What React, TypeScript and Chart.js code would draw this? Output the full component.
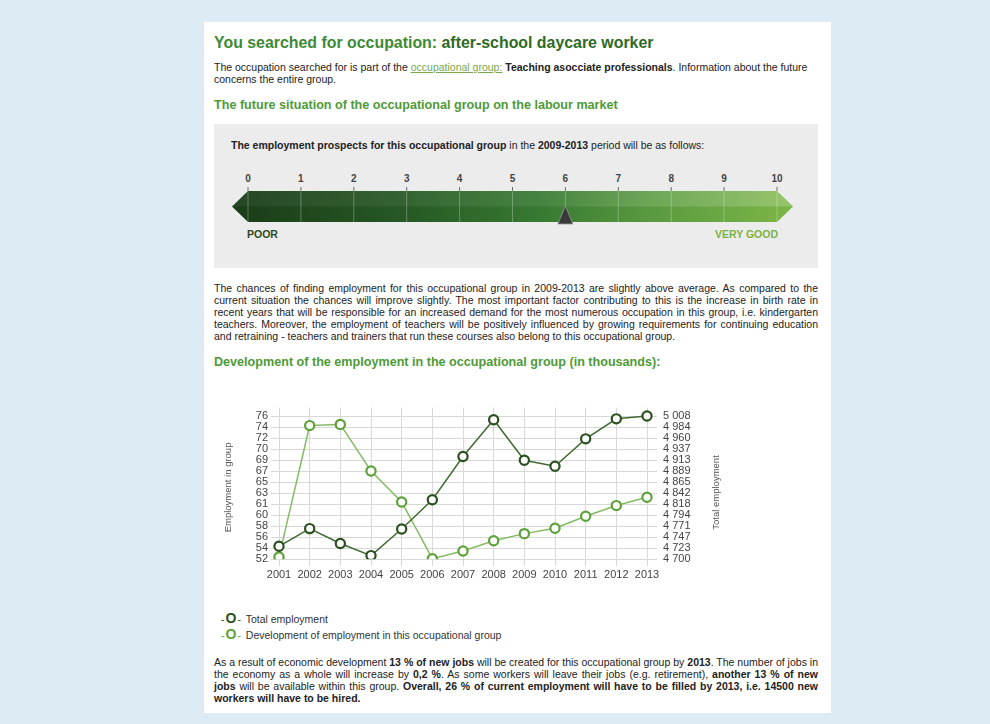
import React, { useEffect, useRef } from "react";
import { Chart, registerables } from "chart.js";

Chart.register(...registerables);

const FONT = '"Liberation Sans", Arial, Helvetica, sans-serif';
Chart.defaults.font.family = FONT;

// ---------------- data ----------------
const years = ["2001", "2002", "2003", "2004", "2005", "2006", "2007", "2008", "2009", "2010", "2011", "2012", "2013"];
const totalEmployment = [4728, 4766, 4734, 4708, 4765, 4828, 4921, 5000, 4913, 4900, 4959, 5002, 5008];
const groupEmployment = [52.4, 74.4, 74.6, 66.8, 61.6, 52.1, 53.4, 55.1, 56.3, 57.2, 59.2, 61.0, 62.4];
const groupTickLabels = ["52", "54", "56", "58", "60", "61", "63", "65", "67", "69", "70", "72", "74", "76"];
const totalTickLabels = ["4 700", "4 723", "4 747", "4 771", "4 794", "4 818", "4 842", "4 865", "4 889", "4 913", "4 937", "4 960", "4 984", "5 008"];
const groupAxisRange = [52, 76];
const totalAxisRange = [4700, 5008];
const seriesNames = ["Total employment", "Development of employment in this occupational group"];
const axisTitles = ["Employment in group", "Total employment"];
const prospectScale = [0, 1, 2, 3, 4, 5, 6, 7, 8, 9, 10];
const prospectScore = 6;
const prospectEnds = ["POOR", "VERY GOOD"];

// ---------------- styles ----------------
const TOTAL_LINE = "#426b33";
const TOTAL_MARK = "#2a5020";
const GROUP_LINE = "#84bb62";
const GROUP_MARK = "#5da13a";
const GRID = "#d8d8d8";
const TICK = "#444444";
const HEADROOM = 0.0589;
const BODY_SIZE = 10.5;

const axisTitlePlugin = {
  id: "axisTitlePlugin",
  afterDraw(chart: any) {
    const { ctx, chartArea, scales } = chart;
    const cy = (chartArea.top + chartArea.bottom) / 2;
    ctx.save();
    ctx.fillStyle = "#555";
    ctx.font = `9.5px ${FONT}`;
    ctx.textAlign = "center";
    ctx.textBaseline = "middle";
    ctx.translate(scales.y.left + 18, cy + 4);
    ctx.rotate(-Math.PI / 2);
    ctx.fillText(axisTitles[0], 0, 0);
    ctx.restore();
    ctx.save();
    ctx.fillStyle = "#555";
    ctx.font = `9.5px ${FONT}`;
    ctx.textAlign = "center";
    ctx.textBaseline = "middle";
    ctx.translate(scales.y1.right - 24, cy + 9);
    ctx.rotate(-Math.PI / 2);
    ctx.fillText(axisTitles[1], 0, 0);
    ctx.restore();
  },
};

function evenTicks(labels: string[], range: number[]) {
  const [lo, hi] = range;
  return labels.map((_, i) => ({ value: lo + (i * (hi - lo)) / (labels.length - 1) }));
}

function EmploymentChart() {
  const ref = useRef<HTMLCanvasElement | null>(null);
  useEffect(() => {
    const canvas = ref.current;
    if (!canvas) return;
    const chart = new Chart(canvas, {
      type: "line",
      data: {
        labels: years,
        datasets: [
          {
            label: seriesNames[0],
            data: totalEmployment,
            yAxisID: "y1",
            borderColor: TOTAL_LINE,
            borderWidth: 1.5,
            pointRadius: 4.6,
            pointBorderWidth: 2.2,
            pointBorderColor: TOTAL_MARK,
            pointBackgroundColor: "#ffffff",
            tension: 0,
          },
          {
            label: seriesNames[1],
            data: groupEmployment,
            yAxisID: "y",
            borderColor: GROUP_LINE,
            borderWidth: 1.5,
            pointRadius: 4.6,
            pointBorderWidth: 2.2,
            pointBorderColor: GROUP_MARK,
            pointBackgroundColor: "#ffffff",
            tension: 0,
          },
        ],
      },
      options: {
        animation: false,
        responsive: false,
        maintainAspectRatio: false,
        layout: { padding: { top: 8, left: 0, right: 0, bottom: 0 } },
        plugins: { legend: { display: false }, tooltip: { enabled: false } },
        scales: {
          x: {
            type: "category",
            offset: false,
            grid: { color: GRID, tickLength: 7, drawTicks: true },
            border: { display: false },
            ticks: { color: TICK, font: { size: 11 }, padding: 2, maxRotation: 0, autoSkip: false },
            afterFit: (s: any) => {
              s.height = 30.7;
            },
          },
          y: {
            type: "linear",
            position: "left",
            min: groupAxisRange[0],
            max: groupAxisRange[1] + (groupAxisRange[1] - groupAxisRange[0]) * HEADROOM,
            afterBuildTicks: (s: any) => {
              s.ticks = evenTicks(groupTickLabels, groupAxisRange);
            },
            ticks: {
              color: TICK,
              font: { size: 11 },
              padding: 3,
              autoSkip: false,
              callback: (_v: any, i: number) => groupTickLabels[i],
            },
            grid: { color: GRID, tickLength: 8 },
            border: { display: false },
            afterFit: (s: any) => {
              s.width = 69;
            },
          },
          y1: {
            type: "linear",
            position: "right",
            min: totalAxisRange[0],
            max: totalAxisRange[1] + (totalAxisRange[1] - totalAxisRange[0]) * HEADROOM,
            afterBuildTicks: (s: any) => {
              s.ticks = evenTicks(totalTickLabels, totalAxisRange);
            },
            ticks: {
              color: TICK,
              font: { size: 11 },
              padding: 6,
              autoSkip: false,
              callback: (_v: any, i: number) => totalTickLabels[i],
            },
            grid: { color: GRID, tickLength: 10, drawOnChartArea: false },
            border: { display: false },
            afterFit: (s: any) => {
              s.width = 93;
            },
          },
        },
      },
      plugins: [axisTitlePlugin],
    } as any);
    return () => chart.destroy();
  }, []);
  return (
    <canvas
      ref={ref}
      width={530}
      height={195}
      style={{ position: "absolute", left: 210, top: 395, width: 530, height: 195 }}
    />
  );
}

function Line({ cy, children, justify = false, left = 214, width = 604 }: any) {
  return (
    <div
      style={{
        position: "absolute",
        left,
        top: cy - 6,
        width,
        height: 12,
        lineHeight: "12px",
        fontSize: BODY_SIZE,
        color: "#222",
        textAlign: justify ? "justify" : "left",
        textAlignLast: justify ? "justify" : "auto",
        overflow: "visible",
      } as any}
    >
      {children}
    </div>
  );
}

function Gauge() {
  const x0 = 248;
  const x1 = 777;
  const unit = (x1 - x0) / (prospectScale.length - 1);
  const top = 191;
  const bot = 222;
  const mid = (top + bot) / 2;
  const mx = x0 + prospectScore * unit;
  const shape = `${x0 - 16},${mid} ${x0},${top} ${x1},${top} ${x1 + 16},${mid} ${x1},${bot} ${x0},${bot}`;
  return (
    <svg width={990} height={724} style={{ position: "absolute", left: 0, top: 0 }}>
      <defs>
        <linearGradient id="bar" x1="0" y1="0" x2="1" y2="0">
          <stop offset="0" stopColor="#1a3d18" />
          <stop offset="0.3" stopColor="#265724" />
          <stop offset="0.55" stopColor="#377a32" />
          <stop offset="0.75" stopColor="#5a9a40" />
          <stop offset="1" stopColor="#7db646" />
        </linearGradient>
        <linearGradient id="hl" x1="0" y1="0" x2="1" y2="0">
          <stop offset="0" stopColor="#ffffff" stopOpacity="0.05" />
          <stop offset="0.6" stopColor="#ffffff" stopOpacity="0.08" />
          <stop offset="1" stopColor="#ffffff" stopOpacity="0.2" />
        </linearGradient>
      </defs>
      <polygon points={shape} fill="url(#bar)" />
      <polygon points={`${x0 - 16},${mid} ${x0},${top} ${x1},${top} ${x1 + 16},${mid}`} fill="url(#hl)" />
      {prospectScale.map((v) => {
        const x = x0 + v * unit;
        return (
          <g key={v}>
            <line x1={x} x2={x} y1={187} y2={top} stroke="#6f6f6f" strokeWidth={1} />
            <line x1={x} x2={x} y1={top} y2={bot} stroke="#ffffff" strokeOpacity={0.28} strokeWidth={1} />
            <text
              x={x}
              y={182}
              textAnchor="middle"
              fontFamily={FONT}
              fontWeight="bold"
              fontSize={10}
              fill="#444"
            >
              {v}
            </text>
          </g>
        );
      })}
      <polygon
        points={`${mx},${mid - 0.5} ${mx - 7.5},${bot + 2} ${mx + 7.5},${bot + 2}`}
        fill="#383838"
        stroke="#9a9a9a"
        strokeWidth={0.8}
      />
      <text x={x0 - 1} y={238} fontFamily={FONT} fontWeight="bold" fontSize={10.5} fill="#2c4b22">
        {prospectEnds[0]}
      </text>
      <text x={x1 + 1} y={238} textAnchor="end" fontFamily={FONT} fontWeight="bold" fontSize={10.5} fill="#7cb342">
        {prospectEnds[1]}
      </text>
    </svg>
  );
}

function Legend() {
  const colors = [TOTAL_MARK, GROUP_MARK];
  const ys = [618, 634];
  return (
    <>
      {seriesNames.map((name, i) => (
        <Line key={name} cy={ys[i]} left={221} width={400}>
          <span style={{ color: colors[i], marginRight: 2 }}>
            -<b style={{ fontSize: 14, margin: "0 1px" }}>O</b>-
          </span>{" "}
          <span style={{ color: "#333" }}>{name}</span>
        </Line>
      ))}
    </>
  );
}

export default function App() {
  return (
    <div
      style={{
        position: "absolute",
        left: 0,
        top: 0,
        width: 990,
        height: 724,
        background: "#dcebf4",
        fontFamily: FONT,
        overflow: "hidden",
      }}
    >
      <div style={{ position: "absolute", left: 204, top: 22, width: 627, height: 691, background: "#ffffff" }} />

      <div
        style={{
          position: "absolute",
          left: 214,
          top: 34,
          height: 18,
          lineHeight: "18px",
          fontSize: 15.9,
          fontWeight: "bold",
          whiteSpace: "nowrap",
        }}
      >
        <span style={{ color: "#3d8a35" }}>You searched for occupation: </span>
        <span style={{ color: "#2d6b24" }}>after-school daycare worker</span>
      </div>

      <Line cy={67}>
        The occupation searched for is part of the{" "}
        <span style={{ color: "#7aa84a", textDecoration: "underline" }}>occupational group:</span>{" "}
        <b>Teaching asocciate professionals</b>. Information about the future
      </Line>
      <Line cy={79}>concerns the entire group.</Line>

      <div
        style={{
          position: "absolute",
          left: 214,
          top: 97,
          height: 16,
          lineHeight: "16px",
          fontSize: 12.6,
          fontWeight: "bold",
          color: "#4e9a36",
          whiteSpace: "nowrap",
        }}
      >
        The future situation of the occupational group on the labour market
      </div>

      <div style={{ position: "absolute", left: 214, top: 124, width: 604, height: 144, background: "#ececec" }} />
      <Line cy={145} left={231} width={580}>
        <b>The employment prospects for this occupational group</b> in the <b>2009-2013</b> period will be as
        follows:
      </Line>
      <Gauge />

      <Line cy={288} justify>
        The chances of finding employment for this occupational group in 2009-2013 are slightly above average. As
        compared to the
      </Line>
      <Line cy={300} justify>
        current situation the chances will improve slightly. The most important factor contributing to this is the
        increase in birth rate in
      </Line>
      <Line cy={312} justify>
        recent years that will be responsible for an increased demand for the most numerous occupation in this group,
        i.e. kindergarten
      </Line>
      <Line cy={324} justify>
        teachers. Moreover, the employment of teachers will be positively influenced by growing requirements for
        continuing education
      </Line>
      <Line cy={336}>
        and retraining - teachers and trainers that run these courses also belong to this occupational group.
      </Line>

      <div
        style={{
          position: "absolute",
          left: 214,
          top: 354,
          height: 16,
          lineHeight: "16px",
          fontSize: 12.6,
          fontWeight: "bold",
          color: "#4e9a36",
          whiteSpace: "nowrap",
        }}
      >
        Development of the employment in the occupational group (in thousands):
      </div>

      <EmploymentChart />
      <Legend />

      <Line cy={662} justify>
        As a result of economic development <b>13 % of new jobs</b> will be created for this occupational group by{" "}
        <b>2013</b>. The number of jobs in
      </Line>
      <Line cy={674} justify>
        the economy as a whole will increase by <b>0,2 %</b>. As some workers will leave their jobs (e.g.
        retirement), <b>another 13 % of new</b>
      </Line>
      <Line cy={686} justify>
        <b>jobs</b> will be available within this group.{" "}
        <b>Overall, 26 % of current employment will have to be filled by 2013, i.e. 14500 new</b>
      </Line>
      <Line cy={698}>
        <b>workers will have to be hired.</b>
      </Line>
    </div>
  );
}
